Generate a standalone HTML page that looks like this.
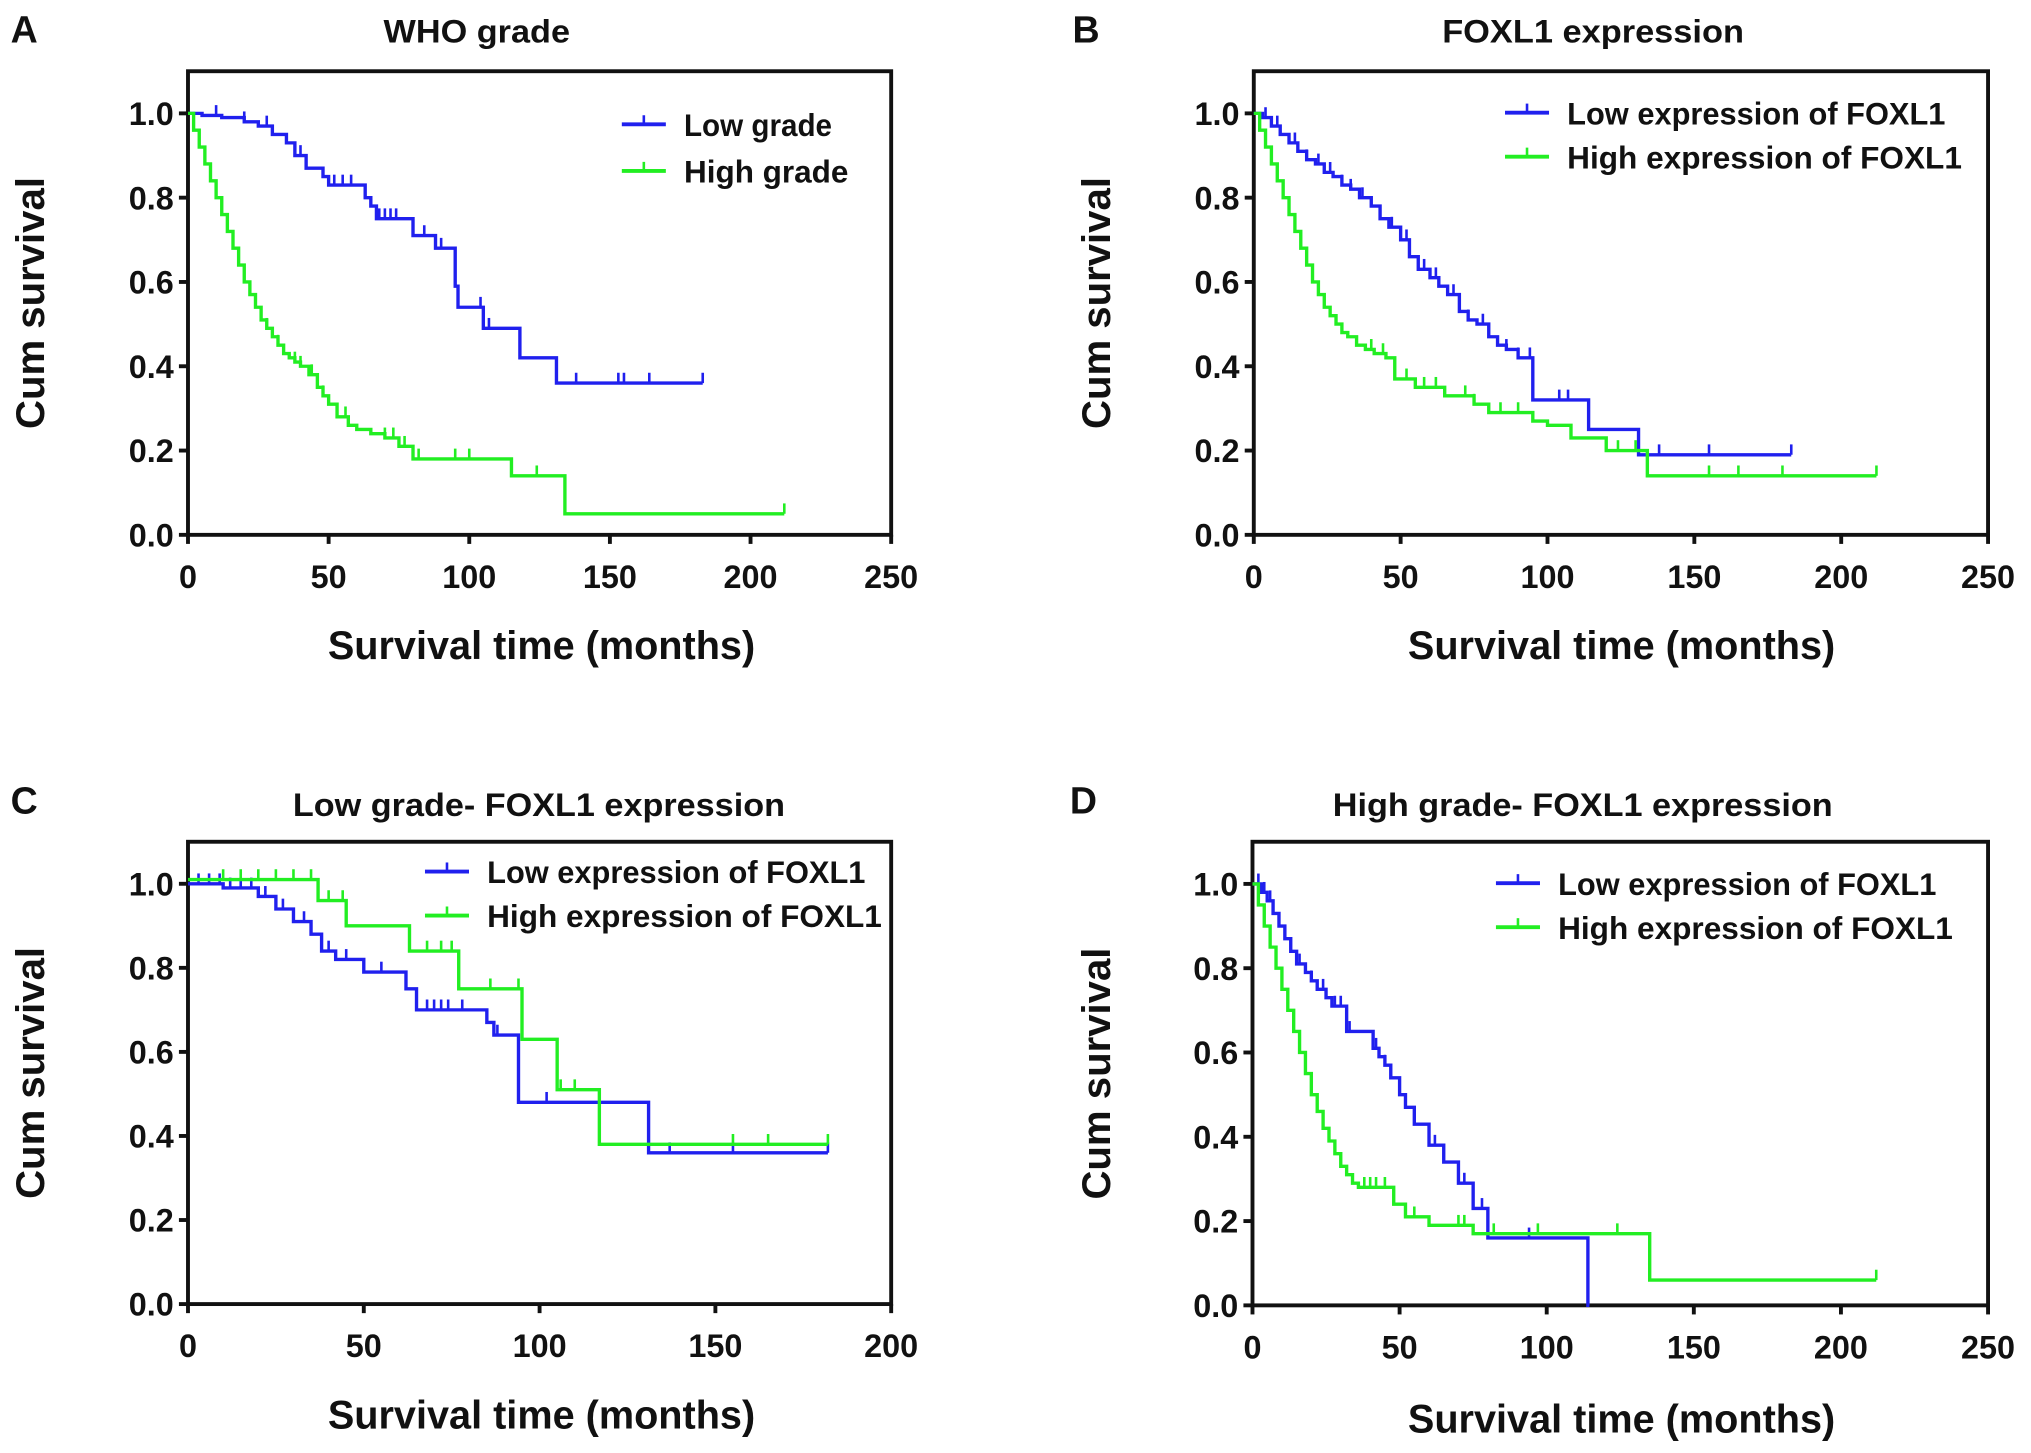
<!DOCTYPE html>
<html><head><meta charset="utf-8"><style>
html,body{margin:0;padding:0;background:#fff;}
svg{display:block;font-family:"Liberation Sans Narrow","Liberation Sans",sans-serif;font-weight:bold;}
</style></head><body>
<svg id="fig" width="2031" height="1453" viewBox="0 0 1568 1122" xmlns="http://www.w3.org/2000/svg"></svg>
<script>
// ---- Data ----
const aLowT=[0,5,12,20,25,30,35,38,42,48,50,63,65,67,80,88,95,96,105,118,131,183];
const aLowS=[1,0.995,0.99,0.98,0.97,0.95,0.93,0.9,0.87,0.85,0.83,0.8,0.78,0.75,0.71,0.68,0.59,0.54,0.49,0.42,0.36,0.36];
const aLowC=[10,20,28,40,52,55,58,68,70,72,74,84,90,104,107,138,153,155,164,183];
const aHighT=[0,2,4,6,8,10,12,14,16,18,20,22,24,26,28,30,32,34,36,38,40,43,46,48,50,53,57,60,65,70,75,80,115,134,212];
const aHighS=[1,0.96,0.92,0.88,0.84,0.8,0.76,0.72,0.68,0.64,0.6,0.57,0.54,0.51,0.49,0.47,0.45,0.43,0.42,0.41,0.4,0.38,0.35,0.33,0.31,0.28,0.26,0.25,0.24,0.23,0.21,0.18,0.14,0.05,0.05];
const aHighC=[28,32,38,40,44,48,56,70,73,77,82,95,100,124,212];

const bLowT=[0,3,6,9,12,15,18,21,24,27,30,33,36,40,43,46,50,53,56,60,63,66,70,73,76,80,83,86,90,95,114,131,183];
const bLowS=[1,0.99,0.97,0.95,0.93,0.91,0.89,0.88,0.86,0.85,0.83,0.82,0.8,0.78,0.75,0.73,0.7,0.66,0.63,0.61,0.59,0.57,0.53,0.51,0.5,0.47,0.45,0.44,0.42,0.32,0.25,0.19,0.19];
const bLowC=[4,8,14,18,22,26,30,33,37,43,47,52,58,62,68,73,78,86,90,94,104,107,138,155,183];
const bHighT=[0,2,4,6,8,10,12,14,16,18,20,22,24,26,28,30,32,35,38,41,45,48,55,65,75,80,95,100,108,120,134,212];
const bHighS=[1,0.96,0.92,0.88,0.84,0.8,0.76,0.72,0.68,0.64,0.6,0.57,0.54,0.52,0.5,0.48,0.47,0.45,0.44,0.43,0.42,0.37,0.35,0.33,0.31,0.29,0.27,0.26,0.23,0.2,0.14,0.14];
const bHighC=[40,44,52,58,62,72,75,84,90,124,130,155,165,180,212];

const cLowT=[0,10,20,25,30,35,38,42,50,62,65,85,87,94,131,182];
const cLowS=[1,0.99,0.97,0.94,0.91,0.88,0.84,0.82,0.79,0.75,0.7,0.67,0.64,0.48,0.36,0.36];
const cLowC=[3,6,9,12,15,18,22,27,33,40,45,55,68,70,72,74,78,88,102,137,155,182];
const cHighT=[0,37,45,63,77,95,105,117,182];
const cHighS=[1.01,0.96,0.9,0.84,0.75,0.63,0.51,0.38,0.38];
const cHighC=[10,15,20,25,30,35,40,44,68,72,75,86,94,106,110,155,165,182];

const dLowT=[0,3,5,7,9,11,13,15,18,20,22,25,27,32,41,43,45,47,50,52,55,60,65,70,75,80,114,114.5];
const dLowS=[1,0.98,0.96,0.93,0.9,0.87,0.84,0.81,0.79,0.77,0.75,0.73,0.71,0.65,0.61,0.59,0.57,0.54,0.5,0.47,0.43,0.38,0.34,0.29,0.23,0.16,0,0];
const dLowC=[2,4,6,16,20,24,28,30,33,42,45,47,62,72,78,94];
const dHighT=[0,2,4,6,8,10,12,14,16,18,20,22,24,26,28,30,32,34,36,46,48,52,60,75,135,212];
const dHighS=[1,0.95,0.9,0.85,0.8,0.75,0.7,0.65,0.6,0.55,0.5,0.46,0.42,0.39,0.36,0.33,0.31,0.29,0.28,0.28,0.24,0.21,0.19,0.17,0.06,0.06];
const dHighC=[38,40,42,45,55,70,72,82,97,124,212];

const yTicks=["0.0","0.2","0.4","0.6","0.8","1.0"];
const xTicks250=[0,50,100,150,200,250];
const xTicks200=[0,50,100,150,200];

const panels=[
 {id:"a",letter:"A",title:"WHO grade",tw:144,L:145,R:688,T:55,B:413,xmax:250,xt:xTicks250,letX:8,letY:33,titleX:368,titleY:33,ylabX:34,xlabX:418,xlabY:509,
  series:[{n:"Low grade",t:aLowT,s:aLowS,c:aLowC,col:"#2020ee"},{n:"High grade",t:aHighT,s:aHighS,c:aHighC,col:"#22ee22"}],legX:480,legY:[96,132]},
 {id:"b",letter:"B",title:"FOXL1 expression",tw:233,L:968,R:1535,T:55,B:413,xmax:250,xt:xTicks250,letX:828,letY:33,titleX:1230,titleY:33,ylabX:857,xlabX:1252,xlabY:509,
  series:[{n:"Low expression of FOXL1",t:bLowT,s:bLowS,c:bLowC,col:"#2020ee"},{n:"High expression of FOXL1",t:bHighT,s:bHighS,c:bHighC,col:"#22ee22"}],legX:1162,legY:[87,121]},
 {id:"c",letter:"C",title:"Low grade- FOXL1 expression",tw:380,L:145,R:688,T:650,B:1007,xmax:200,xt:xTicks200,letX:8,letY:628,titleX:416,titleY:630,ylabX:34,xlabX:418,xlabY:1103,
  series:[{n:"Low expression of FOXL1",t:cLowT,s:cLowS,c:cLowC,col:"#2020ee"},{n:"High expression of FOXL1",t:cHighT,s:cHighS,c:cHighC,col:"#22ee22"}],legX:328,legY:[673,707]},
 {id:"d",letter:"D",title:"High grade- FOXL1 expression",tw:386,L:967,R:1535,T:650,B:1008,xmax:250,xt:xTicks250,letX:826,letY:628,titleX:1222,titleY:630,ylabX:857,xlabX:1252,xlabY:1106,
  series:[{n:"Low expression of FOXL1",t:dLowT,s:dLowS,c:dLowC,col:"#2020ee"},{n:"High expression of FOXL1",t:dHighT,s:dHighS,c:dHighC,col:"#22ee22"}],legX:1155,legY:[682,716]}
];

const NS="http://www.w3.org/2000/svg";
const svg=document.getElementById('fig');
function mk(tag,attrs,parent,txt){const e=document.createElementNS(NS,tag);for(const k in attrs)e.setAttribute(k,attrs[k]);if(txt!==undefined)e.textContent=txt;parent.appendChild(e);return e;}
function stepAt(t,s,x){let v=s[0];for(let i=0;i<t.length;i++){if(t[i]<=x)v=s[i];}return v;}

panels.forEach(p=>{
 const g=mk('g',{},svg);
 
 
 const yScale=v=>p.B-v*(p.B-p.T)/1.1;
 const xScale=v=>p.L+v/p.xmax*(p.R-p.L);
 const let_=mk('text',{x:p.letX,y:p.letY,'font-size':29,fill:'#111'},g,p.letter);
 
 
 const ti=mk('text',{x:p.titleX,y:p.titleY,'font-size':25,'text-anchor':'middle',fill:'#111',textLength:p.tw,lengthAdjust:'spacingAndGlyphs'},g,p.title);
 
 
 const fr=mk('rect',{x:p.L,y:p.T,width:p.R-p.L,height:p.B-p.T,fill:'none',stroke:'#111','stroke-width':3},g);
 
 
 yTicks.forEach(lbl=>{const v=parseFloat(lbl);const y=yScale(v);
  mk('line',{x1:p.L-7,x2:p.L,y1:y,y2:y,stroke:'#111','stroke-width':3},g);
  const tl=mk('text',{x:p.L-11,y:y+9,'font-size':25,'text-anchor':'end',fill:'#111'},g,lbl);
  
  
 });
 p.xt.forEach(v=>{const x=xScale(v);
  mk('line',{x1:x,x2:x,y1:p.B,y2:p.B+7,stroke:'#111','stroke-width':3},g);
  const tl=mk('text',{x:x,y:p.B+41,'font-size':25,'text-anchor':'middle',fill:'#111'},g,String(v));
  
  
 });
 const cy=(p.T+p.B)/2;
 const yl=mk('text',{x:0,y:0,'font-size':31,'text-anchor':'middle',fill:'#111',transform:`translate(${p.ylabX},${cy}) rotate(-90)`},g,'Cum survival');
 
 
 const xl=mk('text',{x:p.xlabX,y:p.xlabY,'font-size':31,'text-anchor':'middle',fill:'#111',textLength:330,lengthAdjust:'spacingAndGlyphs'},g,'Survival time (months)');
 
 
 p.series.forEach((s,si)=>{
  let d=`M${xScale(s.t[0])},${yScale(s.s[0])}`;
  for(let i=1;i<s.t.length;i++){d+=` H${xScale(s.t[i])} V${yScale(s.s[i])}`;}
  const path=mk('path',{d:d,fill:'none',stroke:s.col,'stroke-width':2.6},g);
  
  
  s.c.forEach(ct=>{const x=xScale(ct),y=yScale(stepAt(s.t,s.s,ct));
   const m=mk('line',{x1:x,x2:x,y1:y-8,y2:y,stroke:s.col,'stroke-width':2},g);
   
   
  });
  const ly=p.legY[si];
  const lg=mk('g',{},g);
  
  
  mk('line',{x1:p.legX,x2:p.legX+34,y1:ly,y2:ly,stroke:s.col,'stroke-width':3},lg);
  mk('line',{x1:p.legX+17,x2:p.legX+17,y1:ly-7,y2:ly,stroke:s.col,'stroke-width':2},lg);
  mk('text',{x:p.legX+48,y:ly+9,'font-size':24,fill:'#111',textLength:s.n.length*12.7,lengthAdjust:'spacingAndGlyphs'},lg,s.n);
 });
});
</script>
</body></html>
